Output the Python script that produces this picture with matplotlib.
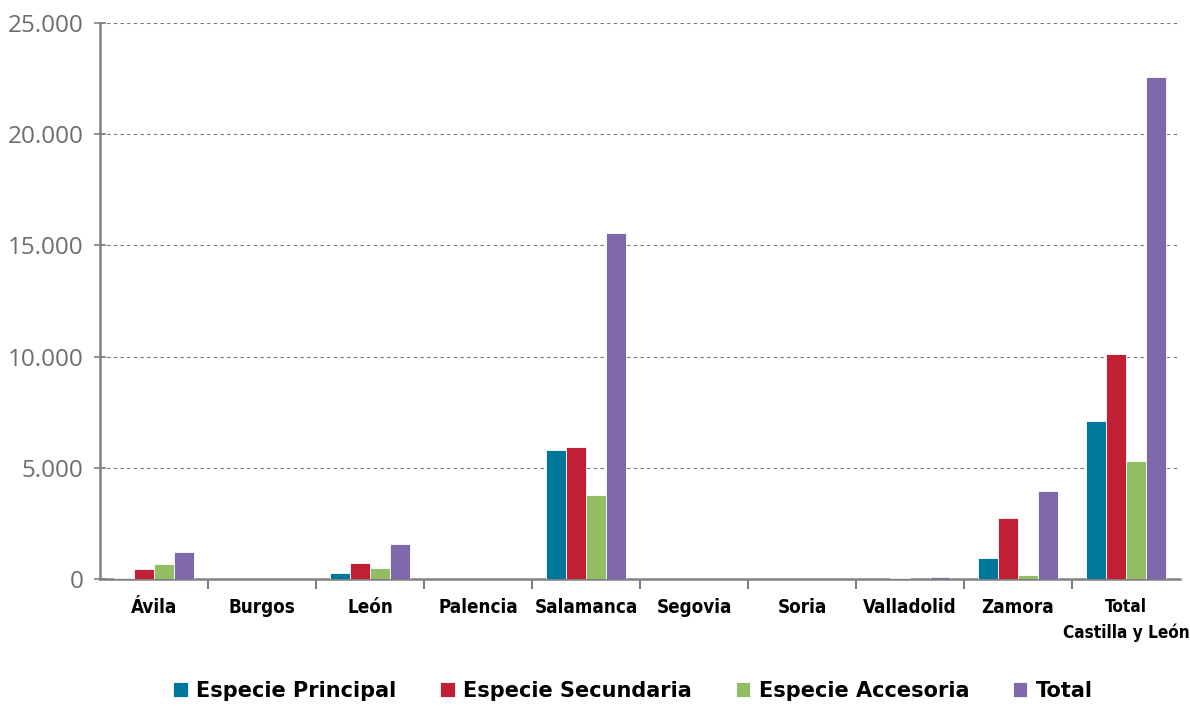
import matplotlib.pyplot as plt
import numpy as np
from matplotlib.ticker import FuncFormatter

categories = ['Ávila', 'Burgos', 'León', 'Palencia', 'Salamanca', 'Segovia',
              'Soria', 'Valladolid', 'Zamora', 'Total\nCastilla y León']
principal = [30, 0, 280, 0, 5800, 0, 0, 0, 960, 7090]
secundaria = [450, 0, 740, 0, 5920, 0, 0, 60, 2750, 10100]
accesoria = [690, 0, 500, 0, 3780, 0, 0, 20, 180, 5320]
total = [1230, 0, 1580, 0, 15550, 20, 0, 100, 3970, 22560]

series = [
    ('Especie Principal', principal, '#00789b'),
    ('Especie Secundaria', secundaria, '#c11f33'),
    ('Especie Accesoria', accesoria, '#92bd62'),
    ('Total', total, '#7e68a9'),
]

fig = plt.figure(figsize=(11.9, 7.07), dpi=100)
ax = fig.add_axes([100 / 1190, 1 - 579 / 707, 1080 / 1190, 556 / 707])

x = np.arange(len(categories))
w = 0.185
for i, (name, vals, col) in enumerate(series):
    ax.bar(x + (i - 1.5) * w, vals, w, color=col, edgecolor='white', linewidth=0.6, label=name, zorder=3)

ax.set_xlim(-0.5, len(categories) - 0.5)
ax.set_ylim(0, 25000)
ax.set_yticks(range(0, 25001, 5000))
ax.yaxis.set_major_formatter(FuncFormatter(lambda v, p: f'{int(v):,}'.replace(',', '.')))
for yv in range(5000, 25001, 5000):
    ax.axhline(yv, color='#777777', linestyle=(0, (3, 3)), linewidth=0.8, zorder=1)

ax.spines['top'].set_visible(False)
ax.spines['right'].set_visible(False)
for s in ('left', 'bottom'):
    ax.spines[s].set_color('#808080')
    ax.spines[s].set_linewidth(1.8)

ax.tick_params(axis='y', direction='inout', length=8, width=1.2, color='#808080',
               labelsize=17.5, labelcolor='#6d6d6d', pad=8)
for lab in ax.get_yticklabels():
    lab.set_family(['Open Sans', 'DejaVu Sans'])

ax.set_xticks(x)
ax.set_xticklabels(categories, fontsize=13.5, fontweight='bold', fontstretch='condensed',
                   family=['DejaVu Sans'], linespacing=1.5)
ax.get_xticklabels()[-1].set_fontsize(12.3)
ax.tick_params(axis='x', which='major', length=0, pad=14)
ax.set_xticks(np.arange(0.5, len(categories) - 0.5, 1), minor=True)
ax.tick_params(axis='x', which='minor', direction='out', length=7, width=1.5, color='#808080')

leg = fig.legend(loc='lower center', bbox_to_anchor=(0.532, -0.018), ncol=4, frameon=False,
                 prop={'family': ['DejaVu Sans'], 'weight': 'bold', 'size': 15},
                 handlelength=0.7, handleheight=0.7, handletextpad=0.4, columnspacing=2.1)

fig.savefig('out.png', dpi=100)
